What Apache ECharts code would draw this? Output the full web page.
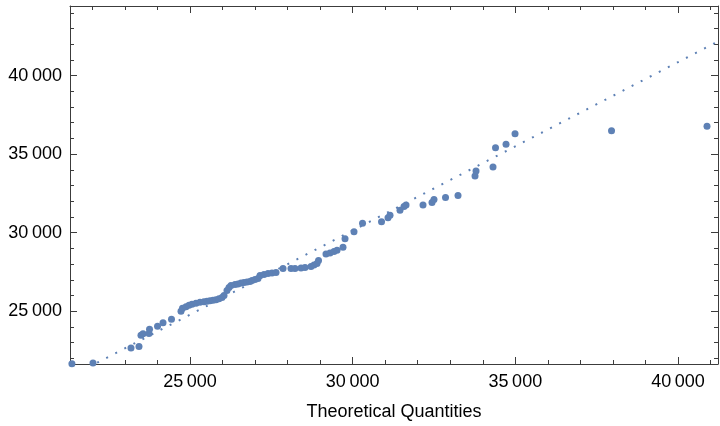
<!DOCTYPE html>
<html>
<head>
<meta charset="utf-8">
<script src="https://cdn.jsdelivr.net/npm/echarts@6/dist/echarts.min.js"></script>
<style>
  html, body { margin: 0; padding: 0; background: #fff; }
  #chart { width: 720px; height: 426px; }
</style>
</head>
<body>
<div id="chart"></div>
<script>
const theoretical = [21370, 22018, 23186, 23432, 23493, 23555, 23739, 23755, 24001, 24170,
  24431, 24723, 24769, 24877, 24969, 25061, 25184, 25307, 25430, 25522,
  25615, 25707, 25799, 25891, 25983, 26045, 26137, 26199, 26260, 26383,
  26475, 26568, 26660, 26752, 26844, 26906, 26998, 27090, 27152, 27275,
  27398, 27521, 27644, 27859, 28105, 28228, 28412, 28535, 28719, 28811,
  28904, 28950, 29180, 29303, 29426, 29519, 29703, 29765, 30041, 30303,
  30887, 31086, 31148, 31455, 31578, 31640, 32162, 32439, 32500, 32854,
  33238, 33761, 33792, 34314, 34391, 34714, 34991, 37957, 40892];
const observed = [21660, 21709, 22658, 22753, 23481, 23576, 23590, 23861, 24051, 24272,
  24494, 25000, 25190, 25285, 25380, 25443, 25506, 25570, 25601, 25633,
  25665, 25697, 25728, 25791, 25886, 26013, 26329, 26519, 26646, 26709,
  26741, 26804, 26836, 26868, 26899, 26962, 27026, 27089, 27279, 27342,
  27405, 27437, 27469, 27722, 27722, 27722, 27753, 27785, 27848, 27943,
  28038, 28228, 28639, 28703, 28798, 28892, 29082, 29620, 30063, 30601,
  30696, 30949, 31107, 31424, 31677, 31772, 31772, 31930, 32120, 32247,
  32373, 33607, 33924, 34177, 35411, 35633, 36297, 36487, 36772];

// dotted reference line (end points)
const refLineX = [21311, 41230];
const refLineY = [20833, 42174];

// axis ranges and ticks
const xRange = [21311, 41230];
const yRange = [21646, 44430];
const xMajor = [25000, 30000, 35000, 40000];
const yMajor = [25000, 30000, 35000, 40000];

function minorTicks(range, step, majors) {
  const out = [];
  for (let v = Math.ceil(range[0] / step) * step; v <= range[1]; v += step) {
    if (majors.indexOf(v) < 0) out.push(v);
  }
  return out;
}
const xMinor = minorTicks(xRange, 1000, xMajor);
const yMinor = minorTicks(yRange, 1000, yMajor);

const frameColor = '#3c3c3c';
const dotColor = '#5E81B5';
const fontFamily = '"Liberation Sans", Arial, sans-serif';

function fmt(v) {
  const s = String(v);
  return s.slice(0, s.length - 3) + '\u2009' + s.slice(-3);
}

function makeAxis(kind, pos, ticks, len, withLine, withLabel, range) {
  return {
    type: 'value',
    position: pos,
    min: range[0],
    max: range[1],
    splitLine: { show: false },
    axisLine: { show: withLine, onZero: false, lineStyle: { color: frameColor, width: 1 } },
    axisTick: {
      show: true,
      inside: true,
      length: len,
      customValues: ticks,
      lineStyle: { color: frameColor, width: 1 }
    },
    axisLabel: withLabel ? {
      show: true,
      customValues: ticks,
      formatter: fmt,
      color: '#000',
      fontSize: 18,
      fontFamily: fontFamily,
      margin: kind === 'x' ? 9 : 8
    } : { show: false }
  };
}

const xAxes = [
  makeAxis('x', 'bottom', xMajor, 7, true, true, xRange),
  makeAxis('x', 'bottom', xMinor, 4, false, false, xRange),
  makeAxis('x', 'top', xMajor, 7, true, false, xRange),
  makeAxis('x', 'top', xMinor, 4, false, false, xRange)
];
xAxes[0].name = 'Theoretical Quantities';
xAxes[0].nameLocation = 'middle';
xAxes[0].nameGap = 39;
xAxes[0].nameTextStyle = { color: '#000', fontSize: 18, fontFamily: fontFamily };

const yAxes = [
  makeAxis('y', 'left', yMajor, 7, true, true, yRange),
  makeAxis('y', 'left', yMinor, 4, false, false, yRange),
  makeAxis('y', 'right', yMajor, 7, true, false, yRange),
  makeAxis('y', 'right', yMinor, 4, false, false, yRange)
];

const chart = echarts.init(document.getElementById('chart'), null, { renderer: 'canvas' });
const option = {
  animation: false,
  backgroundColor: '#fff',
  grid: { left: 70, right: 2, top: 6, bottom: 60, containLabel: false },
  xAxis: xAxes,
  yAxis: yAxes,
  series: [
    {
      type: 'line',
      xAxisIndex: 0,
      yAxisIndex: 0,
      data: refLineX.map((x, i) => [x, refLineY[i]]),
      showSymbol: false,
      clip: true,
      lineStyle: { color: dotColor, width: 2, type: [2, 8.2], cap: 'butt' },
      silent: true,
      z: 1
    },
    {
      type: 'scatter',
      xAxisIndex: 0,
      yAxisIndex: 0,
      data: theoretical.map((x, i) => [x, observed[i]]),
      symbol: 'circle',
      symbolSize: 7,
      itemStyle: { color: dotColor, opacity: 1 },
      z: 2
    }
  ]
};
chart.setOption(option);
</script>
</body>
</html>
